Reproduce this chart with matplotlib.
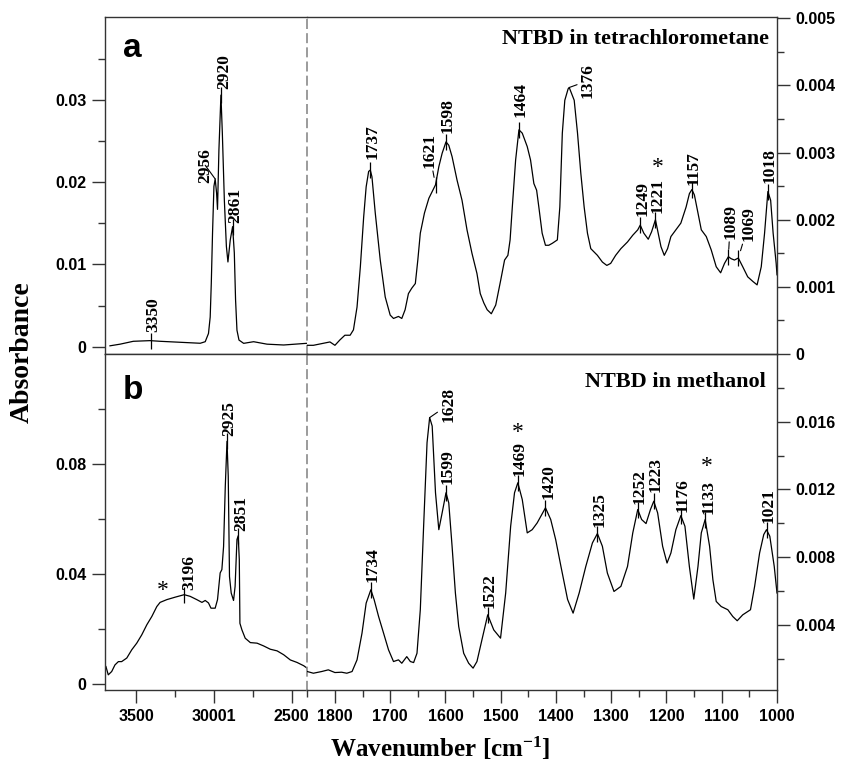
import numpy as np
import matplotlib
matplotlib.use('Agg')
import matplotlib.pyplot as plt
from matplotlib.ticker import FixedLocator, FixedFormatter

plt.rcParams['font.family'] = 'Liberation Sans'
plt.rcParams['font.weight'] = 'bold'
plt.rcParams['mathtext.fontset'] = 'custom'
plt.rcParams['mathtext.default'] = 'regular'
plt.rcParams['mathtext.rm'] = 'Liberation Serif:bold'

SERIF = 'Liberation Serif'

# ---- panel a: NTBD in tetrachlorometane ----
# 3700-2400 cm-1, left scale
wn_a_hi = [3668, 3603, 3518, 3410, 3346, 3260, 3174, 3088, 3056, 3035, 3024, 3017,
           3009, 3000, 2992, 2983, 2977, 2968, 2955, 2946, 2933, 2920, 2910, 2895,
           2880, 2869, 2861, 2852, 2839, 2809, 2745, 2659, 2552, 2406]
ab_a_hi = [0.0001, 0.0003, 0.00065, 0.00073, 0.00065, 0.00057, 0.00049, 0.00041,
           0.0006, 0.0016, 0.0036, 0.0077, 0.0138, 0.0195, 0.0204, 0.0187, 0.0167,
           0.0239, 0.0306, 0.026, 0.0178, 0.0122, 0.0103, 0.013, 0.0146, 0.0114,
           0.0057, 0.002, 0.0008, 0.0004, 0.0006, 0.0003, 0.0002, 0.0004]
# 1850-1000 cm-1, right scale
wn_a_lo = [1850, 1839, 1821, 1809, 1800, 1791, 1782, 1772.5, 1766.5, 1760, 1754, 1748,
           1743.5, 1739, 1736, 1733, 1727, 1718, 1709, 1700, 1694, 1685, 1679, 1673,
           1667, 1661, 1654.5, 1650, 1645.5, 1638, 1630, 1624, 1618, 1612, 1606, 1599,
           1594, 1588, 1579, 1570, 1561, 1552, 1543, 1537, 1530.5, 1524.5, 1517, 1509,
           1500, 1493, 1487, 1483, 1479, 1473, 1467, 1461, 1452, 1446, 1440, 1435,
           1431, 1425, 1419, 1413, 1406.5, 1397.5, 1393, 1388.5, 1384, 1378, 1376,
           1367, 1361, 1355, 1349, 1343, 1337, 1331, 1325, 1316, 1308, 1301, 1292,
           1282.5, 1270.5, 1261, 1252, 1247.5, 1241, 1233, 1227, 1220, 1215, 1210,
           1204, 1198, 1192, 1183, 1174, 1164.5, 1158.5, 1154, 1149.5, 1143, 1137,
           1128, 1119, 1110, 1102, 1095, 1088, 1083, 1077, 1070, 1062, 1053, 1043.5,
           1036, 1028.5, 1022.5, 1016.5, 1011.5, 1007, 1001.5, 1000]
ab_a_lo = [0.00013, 0.00013, 0.00016, 0.00018, 0.00013, 0.00021, 0.00028, 0.00028,
           0.00036, 0.0007, 0.0013, 0.00204, 0.00249, 0.00272, 0.00274, 0.00264,
           0.0021, 0.0014, 0.00085, 0.00058, 0.00053, 0.00056, 0.00053, 0.00066,
           0.0009, 0.00098, 0.00105, 0.0014, 0.0018, 0.0021, 0.00232, 0.00242,
           0.00252, 0.00279, 0.00299, 0.00316, 0.00311, 0.00294, 0.00259, 0.00229,
           0.00185, 0.0015, 0.0012, 0.0009, 0.00076, 0.00066, 0.0006, 0.00073,
           0.0011, 0.0014, 0.00147, 0.0017, 0.00219, 0.00289, 0.00334, 0.00329,
           0.00309, 0.00289, 0.00254, 0.00244, 0.00219, 0.0018, 0.00162, 0.00162,
           0.00165, 0.0017, 0.00219, 0.00329, 0.00378, 0.00395, 0.00397, 0.00378,
           0.00329, 0.00269, 0.00219, 0.0018, 0.00157, 0.00152, 0.00147, 0.00137,
           0.00132, 0.00135, 0.00147, 0.00157, 0.00167, 0.00177, 0.00185, 0.00192,
           0.0018, 0.00171, 0.00182, 0.002, 0.0018, 0.0016, 0.00147, 0.00157,
           0.00175, 0.00185, 0.00195, 0.00219, 0.00239, 0.00245, 0.00237, 0.0021,
           0.00185, 0.00175, 0.00155, 0.0013, 0.00121, 0.00135, 0.00145, 0.00142,
           0.0014, 0.00143, 0.0013, 0.00115, 0.00108, 0.00103, 0.0013, 0.0018,
           0.00242, 0.00229, 0.0018, 0.00135, 0.00118]

# ---- panel b: NTBD in methanol ----
wn_b_hi = [3694, 3679, 3657, 3636, 3614, 3593, 3560, 3528, 3496, 3464, 3431, 3399,
           3367, 3346, 3303, 3249, 3191, 3153, 3110, 3077, 3056, 3035, 3019, 2992,
           2977, 2960, 2949, 2938, 2927, 2916, 2908, 2900, 2889, 2874, 2864, 2852,
           2844, 2837, 2833, 2820, 2799, 2766, 2723, 2681, 2638, 2594, 2552, 2509,
           2466, 2423, 2401]
ab_b_hi = [0.0064, 0.0034, 0.0046, 0.007, 0.0082, 0.0082, 0.0095, 0.0125, 0.0149,
           0.0179, 0.0216, 0.0246, 0.0282, 0.0297, 0.0307, 0.0316, 0.0325, 0.0319,
           0.0307, 0.0297, 0.0304, 0.0295, 0.0276, 0.0276, 0.0307, 0.0404, 0.0416,
           0.05, 0.0719, 0.0882, 0.0755, 0.0391, 0.0331, 0.0304, 0.0355, 0.0525,
           0.0539, 0.0452, 0.0221, 0.0197, 0.0167, 0.0151, 0.0149, 0.0139, 0.0127,
           0.0121, 0.0107, 0.0088, 0.0079, 0.0067, 0.0058]
wn_b_lo = [1850, 1839, 1824, 1812, 1800, 1788, 1778.5, 1769, 1760, 1751, 1743.5, 1735,
           1729, 1721, 1712, 1703, 1694, 1685, 1679, 1670, 1663.5, 1657.6, 1651.5,
           1645.5, 1639.5, 1633.3, 1628.6, 1624, 1618, 1612, 1606, 1599, 1594, 1588,
           1582, 1576, 1567, 1558, 1550, 1543, 1534, 1523.5, 1512.6, 1500.3, 1491,
           1482, 1475, 1469, 1461, 1452, 1443, 1434, 1419, 1409.5, 1400.5, 1391, 1379,
           1369, 1358, 1346, 1334, 1325, 1316, 1307, 1295, 1282.5, 1270.5, 1261, 1252,
           1245, 1237, 1229, 1223, 1216, 1207, 1199, 1192, 1183, 1174, 1166.6, 1158.6,
           1150.6, 1143, 1137, 1130, 1122, 1116, 1110, 1101, 1089, 1080, 1072, 1062,
           1048, 1040.5, 1031.5, 1024, 1019, 1013, 1005, 1000]
ab_b_lo = [0.00124, 0.00114, 0.00124, 0.00134, 0.00118, 0.0012, 0.00114, 0.00124,
           0.00193, 0.00351, 0.00528, 0.00607, 0.00548, 0.00449, 0.00351, 0.00252,
           0.00183, 0.00193, 0.00173, 0.00212, 0.00183, 0.00177, 0.00232, 0.00489,
           0.00982, 0.01476, 0.01624, 0.01574, 0.0118, 0.00962, 0.01061, 0.0118,
           0.0112, 0.00864, 0.00588, 0.0039, 0.00232, 0.00173, 0.00144, 0.00183,
           0.00311, 0.00459, 0.0037, 0.00321, 0.00588, 0.00982, 0.0118, 0.01239,
           0.0114, 0.00943, 0.00962, 0.01002, 0.01091, 0.01022, 0.00903, 0.00745,
           0.0055, 0.00469, 0.00588, 0.00745, 0.00884, 0.00939, 0.00864, 0.00706,
           0.00597, 0.00627, 0.00745, 0.00943, 0.01081, 0.01022, 0.00998, 0.01081,
           0.0113, 0.01061, 0.00864, 0.00765, 0.00824, 0.00962, 0.01045, 0.00982,
           0.00745, 0.00552, 0.00745, 0.00943, 0.01022, 0.00864, 0.00666, 0.00538,
           0.00508, 0.00489, 0.00449, 0.00424, 0.00459, 0.00489, 0.00627, 0.00824,
           0.00933, 0.00962, 0.00923, 0.00745, 0.00588]

# peak labels and where they sit on the drawn curves
lab_a_hi = ['3350', '2956', '2920', '2861']
pos_a_hi = [3404, 2992, 2955, 2880]
lab_a_lo = ['1737', '1621', '1598', '1464', '1376', '1249', '1221', '1157', '1089', '1069', '1018']
pos_a_lo = [1736, 1618, 1599, 1467, 1376, 1247.5, 1220, 1154, 1088, 1070, 1016.5]
lab_b_hi = ['3196', '2925', '2851']
pos_b_hi = [3191, 2916, 2844]
lab_b_lo = ['1734', '1628', '1599', '1522', '1469', '1420', '1325', '1252', '1223', '1176', '1133', '1021']
pos_b_lo = [1735, 1628.6, 1599, 1523.5, 1469, 1419, 1325, 1252, 1223, 1174, 1130, 1019]
starred = ['1221', '3196', '1469', '1133']

# axis ticks
xt_hi = [3500, 3000, 2500]
xt_hi_lab = ['3500', '30001', '2500']
xt_lo = [1800, 1700, 1600, 1500, 1400, 1300, 1200, 1100, 1000]
yt_a_l = [0, 0.01, 0.02, 0.03]
yt_a_l_lab = ['0', '0.01', '0.02', '0.03']
yt_a_r = [0, 0.001, 0.002, 0.003, 0.004, 0.005]
yt_a_r_lab = ['0', '0.001', '0.002', '0.003', '0.004', '0.005']
yt_b_l = [0, 0.04, 0.08]
yt_b_l_lab = ['0', '0.04', '0.08']
yt_b_r = [0.004, 0.008, 0.012, 0.016]
yt_b_r_lab = ['0.004', '0.008', '0.012', '0.016']

# label layout: (dx pt, dy pt of text bottom above peak, tick, leader)
LAYOUT = {'3350': (0, 6.3, True, False), '2956': (-8.6, -2.7, False, True),
          '2920': (0.7, 4.3, True, False), '2861': (0.7, 2.7, True, False),
          '1737': (0, 7.9, True, False), '1621': (-6, 12, True, True),
          '1598': (0, 6.3, True, False), '1464': (0, 9.4, True, False),
          '1376': (12, -7.7, False, True), '1249': (0, 6.5, True, False),
          '1221': (0, 5, True, False), '1157': (0, 3.6, True, False),
          '1089': (0, 12.7, True, True), '1069': (6, 12, True, True),
          '1018': (0, 6.3, True, False), '3196': (2.2, 3.6, True, False),
          '2925': (0, 4.1, True, False), '2851': (0.7, 3.1, True, False),
          '1734': (0, 5.3, True, False), '1628': (12, -3.4, False, True),
          '1599': (0, 6, True, False), '1522': (0, 5, True, False),
          '1469': (0, 4.8, True, False), '1420': (1.2, 6, True, False),
          '1325': (0, 5, True, False), '1252': (0, 4.3, True, False),
          '1223': (0, 6.3, True, False), '1176': (0, 2.9, True, False),
          '1133': (0.7, 4.3, True, False), '1021': (0, 5, True, False)}
STAR = {'1221': (1.7, 42), '3196': (-15.3, 7.2), '1469': (0, 41), '1133': (1, 42.5)}

SPINE = '#333333'


def add_peaks(ax, wn, ab, labels, positions):
    w = np.array(wn)[::-1]
    a = np.array(ab)[::-1]
    for lab, p in zip(labels, positions):
        dx, dy, tick, leader = LAYOUT[lab]
        y = np.interp(p, w, a)
        if tick:
            ax.plot([p], [y], marker='|', ms=11, mew=0.9, color='k', ls='none')
        arrow = None
        if leader:
            arrow = dict(arrowstyle='-', lw=0.8, color='k', shrinkA=0,
                         shrinkB=5.5 if tick else 0)
        ax.annotate(lab, xy=(p, y), xytext=(dx + 1.4, dy), textcoords='offset points',
                    rotation=90, ha='center', va='bottom', family=SERIF,
                    weight='bold', fontsize=12.5, arrowprops=arrow)
        if lab in starred:
            sx, sy = STAR[lab]
            ax.annotate('*', xy=(p, y), xytext=(sx, sy - 8.5), textcoords='offset points',
                        ha='center', va='baseline', family=SERIF, weight='normal',
                        fontsize=17)


def setup(ax, side):
    for s in ax.spines.values():
        s.set_color(SPINE)
        s.set_linewidth(1.0)
    ax.tick_params(which='major', length=9.5, width=1, direction='out', pad=4,
                   labelsize=11.5, color=SPINE)
    ax.tick_params(which='minor', length=4.8, width=1, direction='out', color=SPINE)
    if side == 'left':
        ax.spines['right'].set_color('#8a8a8a')
        ax.spines['right'].set_linewidth(1.2)
        ax.spines['right'].set_linestyle((0, (5, 3.5)))
        ax.spines['right'].set_zorder(5)
    else:
        ax.spines['left'].set_visible(False)
        ax.patch.set_visible(False)
        ax.yaxis.tick_right()


fig = plt.figure(figsize=(8.42, 7.63), dpi=100)
L, M, R = 105 / 842, 307.3 / 842, 777 / 842
ax_al = fig.add_axes([L, 0.5360, M - L, 0.4417])
ax_ar = fig.add_axes([M, 0.5360, R - M, 0.4417])
ax_bl = fig.add_axes([L, 0.0957, M - L, 0.4404])
ax_br = fig.add_axes([M, 0.0957, R - M, 0.4404])

for ax in (ax_al, ax_bl):
    setup(ax, 'left')
    ax.set_xlim(3700, 2400)
for ax in (ax_ar, ax_br):
    setup(ax, 'right')
    ax.set_xlim(1850, 1000)

ax_al.plot(wn_a_hi, ab_a_hi, color='k', lw=0.9)
ax_ar.plot(wn_a_lo, ab_a_lo, color='k', lw=0.9)
ax_bl.plot(wn_b_hi, ab_b_hi, color='k', lw=0.9)
ax_br.plot(wn_b_lo, ab_b_lo, color='k', lw=0.9)

ax_al.set_ylim(-0.0009, 0.0401)
ax_ar.set_ylim(0, 0.00502)
ax_bl.set_ylim(-0.0021, 0.1199)
ax_br.set_ylim(0.00015, 0.02)

# y ticks
ax_al.yaxis.set_major_locator(FixedLocator(yt_a_l))
ax_al.yaxis.set_major_formatter(FixedFormatter(yt_a_l_lab))
ax_al.yaxis.set_minor_locator(FixedLocator([0.005, 0.015, 0.025, 0.035]))
ax_ar.yaxis.set_major_locator(FixedLocator(yt_a_r))
ax_ar.yaxis.set_major_formatter(FixedFormatter(yt_a_r_lab))
ax_ar.yaxis.set_minor_locator(FixedLocator([0.0005, 0.0015, 0.0025, 0.0035, 0.0045]))
ax_bl.yaxis.set_major_locator(FixedLocator(yt_b_l))
ax_bl.yaxis.set_major_formatter(FixedFormatter(yt_b_l_lab))
ax_bl.yaxis.set_minor_locator(FixedLocator([0.02, 0.06, 0.10]))
ax_br.yaxis.set_major_locator(FixedLocator(yt_b_r))
ax_br.yaxis.set_major_formatter(FixedFormatter(yt_b_r_lab))
ax_br.yaxis.set_minor_locator(FixedLocator([0.002, 0.006, 0.010, 0.014, 0.018]))

# x ticks (bottom panel only)
for ax in (ax_al, ax_ar):
    ax.tick_params(axis='x', which='both', bottom=False, labelbottom=False)
ax_bl.xaxis.set_major_locator(FixedLocator(xt_hi))
ax_bl.xaxis.set_major_formatter(FixedFormatter(xt_hi_lab))
ax_bl.xaxis.set_minor_locator(FixedLocator([3250, 2750]))
ax_br.xaxis.set_major_locator(FixedLocator(xt_lo))
ax_br.xaxis.set_major_formatter(FixedFormatter([str(v) for v in xt_lo]))
ax_br.xaxis.set_minor_locator(FixedLocator(np.arange(1850, 1000, -100)))

add_peaks(ax_al, wn_a_hi, ab_a_hi, lab_a_hi, pos_a_hi)
add_peaks(ax_ar, wn_a_lo, ab_a_lo, lab_a_lo, pos_a_lo)
add_peaks(ax_bl, wn_b_hi, ab_b_hi, lab_b_hi, pos_b_hi)
add_peaks(ax_br, wn_b_lo, ab_b_lo, lab_b_lo, pos_b_lo)

ax_ar.text(0.9836, 0.920, 'NTBD in tetrachlorometane', transform=ax_ar.transAxes,
           ha='right', va='baseline', family=SERIF, weight='bold', fontsize=16)
ax_br.text(0.9766, 0.9027, 'NTBD in methanol', transform=ax_br.transAxes,
           ha='right', va='baseline', family=SERIF, weight='bold', fontsize=16)
ax_al.text(0.089, 0.882, 'a', transform=ax_al.transAxes, ha='left', va='baseline',
           fontsize=24, weight='bold')
ax_bl.text(0.089, 0.866, 'b', transform=ax_bl.transAxes, ha='left', va='baseline',
           fontsize=24, weight='bold')

fig.text(22 / 842, 1 - 352 / 763, 'Absorbance', rotation=90, ha='center', va='center',
         family=SERIF, weight='bold', fontsize=20)
fig.text(440 / 842, 1 - 756.7 / 763, r'Wavenumber [cm$^{-1}$]', ha='center',
         va='baseline', family=SERIF, weight='bold', fontsize=18)

fig.savefig('out.png', dpi=100)
